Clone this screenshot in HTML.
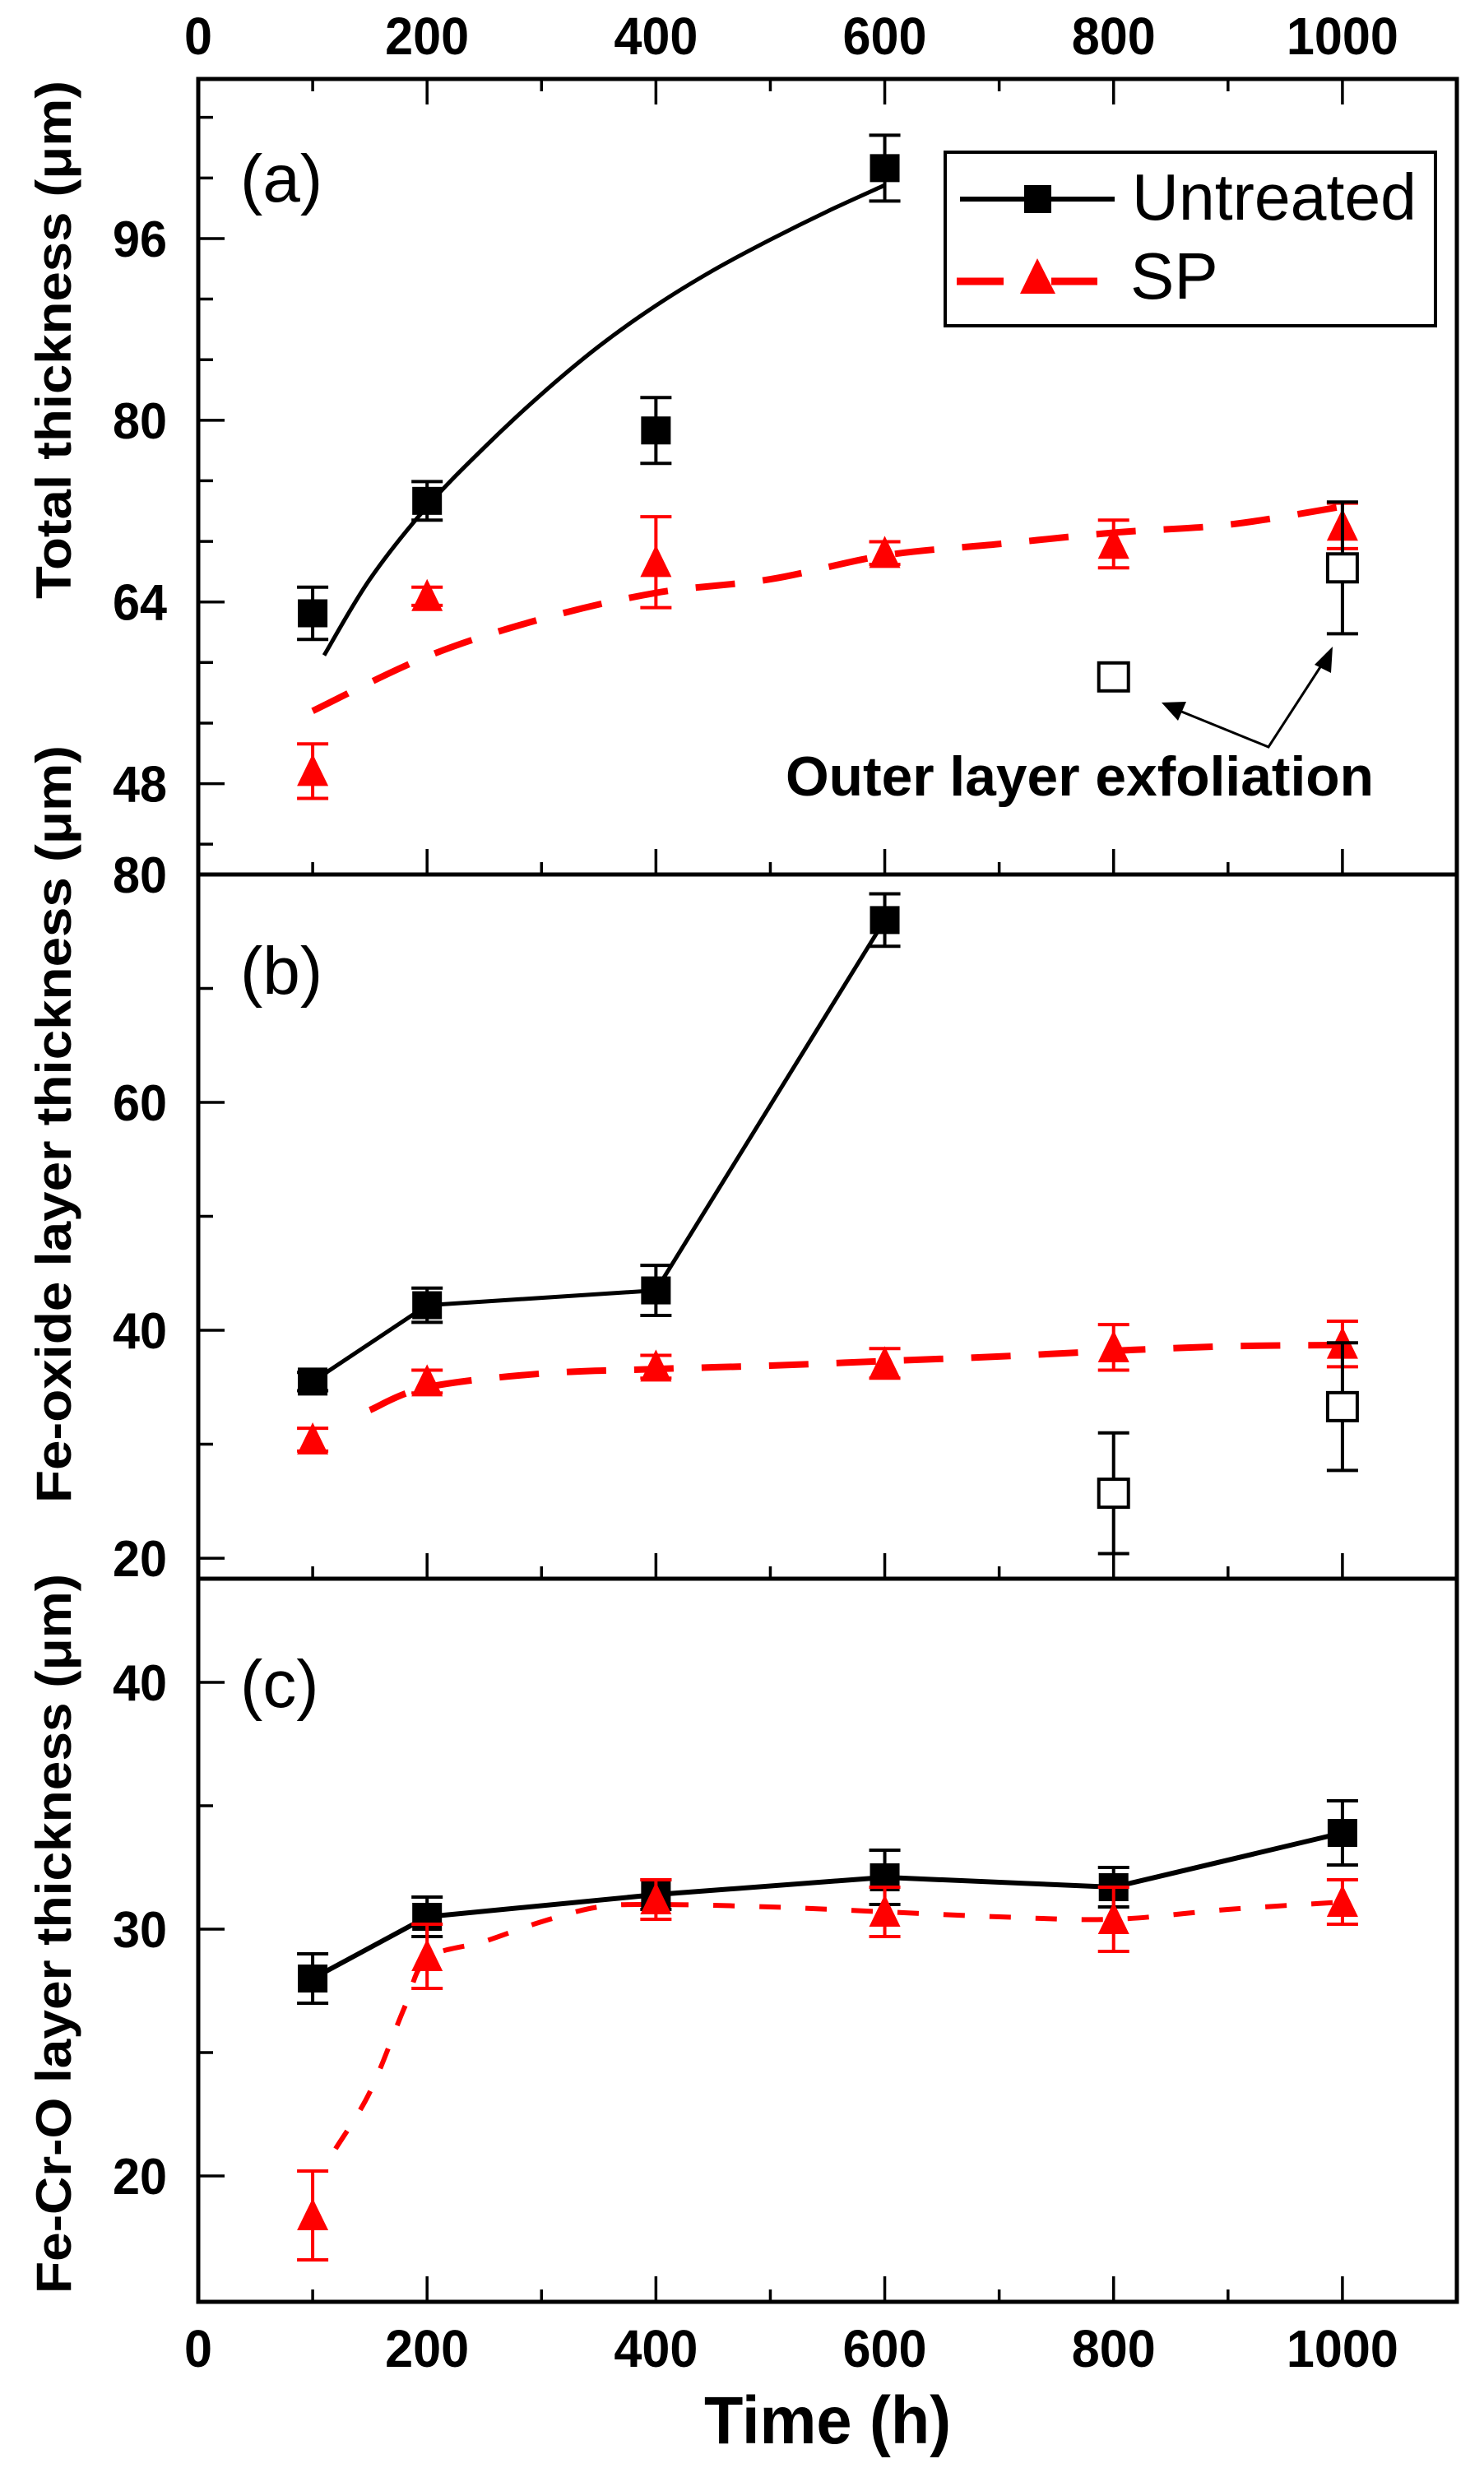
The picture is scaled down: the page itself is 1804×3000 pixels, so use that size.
<!DOCTYPE html>
<html><head><meta charset="utf-8"><style>
html,body{margin:0;padding:0;background:#fff;}
svg{display:block;}
text{font-family:"Liberation Sans",Arial,sans-serif;}
</style></head><body>
<svg id="chart" width="1804" height="3000" viewBox="0 0 1804 3000" xmlns="http://www.w3.org/2000/svg"></svg>
<script>
// ---- data ----
const times = [100, 200, 400, 600, 800, 1000];
const xTickLabels = ["0", "200", "400", "600", "800", "1000"];
// Panel (a) Total thickness
const aUntreatedX = [100, 200, 400, 600];
const aUntreated = [63.0, 72.9, 79.1, 102.2];
const aUntreatedErr = [2.3, 1.7, 2.9, 2.9];
const aUntreatedFitX = [110, 150, 200, 250, 300, 350, 400, 450, 500, 550, 600];
const aUntreatedFit = [59.3, 66.0, 72.4, 77.6, 82.3, 86.5, 90.1, 93.2, 95.9, 98.4, 100.7];
const aSP = [49.1, 64.5, 67.5, 68.3, 69.1, 70.7];
const aSPErr = [2.4, 0.8, 4.0, 1.0, 2.1, 2.0];
const aSPFitX = [100, 200, 300, 400, 500, 600, 700, 800, 900, 1000];
const aSPFit = [54.4, 59.2, 62.5, 64.8, 66.0, 68.1, 69.1, 70.1, 70.8, 72.4];
const aExfolX = [800, 1000];
const aExfol = [57.4, 67.0];
const aExfolErr = [0, 5.8];
const aYTicks = [48, 64, 80, 96];
// Panel (b) Fe-oxide
const bUntreatedX = [100, 200, 400, 600];
const bUntreated = [35.5, 42.2, 43.5, 76.0];
const bUntreatedErr = [0.8, 1.5, 2.2, 2.3];
const bSP = [30.4, 35.5, 36.8, 37.1, 38.5, 38.8];
const bSPErr = [1.0, 1.0, 1.0, 1.3, 2.0, 2.0];
const bSPFitX = [150, 200, 300, 400, 500, 600, 700, 800, 900, 1000];
const bSPFit = [33.0, 35.0, 36.2, 36.6, 36.9, 37.3, 37.7, 38.2, 38.6, 38.7];
const bExfolX = [800, 1000];
const bExfol = [25.7, 33.3];
const bExfolErr = [5.3, 5.6];
const bYTicks = [20, 40, 60, 80];
// Panel (c) Fe-Cr-O
const cUntreated = [28.0, 30.5, 31.4, 32.1, 31.7, 33.9];
const cUntreatedErr = [1.0, 0.8, 0.6, 1.1, 0.8, 1.3];
const cSP = [18.4, 28.9, 31.2, 30.7, 30.4, 31.1];
const cSPErr = [1.8, 1.3, 0.8, 1.0, 1.3, 0.9];
const cSPFitX = [120, 150, 180, 200, 250, 300, 350, 400, 500, 600, 700, 800, 900, 1000];
const cSPFit = [21.1, 23.4, 26.8, 28.8, 29.5, 30.3, 30.9, 31.0, 30.9, 30.7, 30.5, 30.4, 30.8, 31.1];
const cYTicks = [20, 30, 40];

// ---- layout ----
const NS = "http://www.w3.org/2000/svg";
const svg = document.getElementById("chart");
const L = 241, R = 1771;
const X = h => L + (h - 0) / 1100 * (R - L);
function mk(tag, attrs, parent) {
  const e = document.createElementNS(NS, tag);
  for (const k in attrs) e.setAttribute(k, attrs[k]);
  (parent || svg).appendChild(e);
  return e;
}
const panels = [
  {id:"a", top:96, bot:1063, y0:40.0, y1:110.05, ticks:aYTicks, minor:[42.67,53.33,58.67,69.33,74.67,85.33,90.67,101.33,106.67], label:"(a)", ly:215, topTicks:true},
  {id:"b", top:1063, bot:1919, y0:18.2, y1:80, ticks:bYTicks, minor:[30,50,70], label:"(b)", ly:1178, topTicks:false},
  {id:"c", top:1919, bot:2798, y0:14.9, y1:44.2, ticks:cYTicks, minor:[25,35], label:"(c)", ly:2045, topTicks:false}
];
panels.forEach(p => { p.Y = v => p.bot - (v - p.y0) / (p.y1 - p.y0) * (p.bot - p.top); });

function frame(p) {
  const g = mk("g", {});
  
  
  mk("rect", {x:L, y:p.top, width:R-L, height:p.bot-p.top, fill:"none", stroke:"#000", "stroke-width":5}, g);
  for (let h = 100; h <= 1000; h += 100) {
    const major = h % 200 === 0;
    const len = major ? 31 : 15;
    mk("line", {x1:X(h), x2:X(h), y1:p.bot, y2:p.bot-len, stroke:"#000", "stroke-width":3.5}, g);
    if (p.topTicks) mk("line", {x1:X(h), x2:X(h), y1:p.top, y2:p.top+len, stroke:"#000", "stroke-width":3.5}, g);
  }
  p.ticks.forEach(v => {
    mk("line", {x1:L, x2:L+32, y1:p.Y(v), y2:p.Y(v), stroke:"#000", "stroke-width":3.5}, g);
    const t = mk("text", {x:203, y:p.Y(v)+22, "text-anchor":"end", "font-size":62, "font-weight":"bold", textLength:String(v).length*33, lengthAdjust:"spacingAndGlyphs"}, g);
    t.textContent = v;
    
    
  });
  p.minor.forEach(v => {
    mk("line", {x1:L, x2:L+18, y1:p.Y(v), y2:p.Y(v), stroke:"#000", "stroke-width":3.5}, g);
  });
  const lab = mk("text", {x:292, y:p.ly+30, "font-size":82, "font-family":"Liberation Serif, serif"}, g);
  lab.textContent = p.label;
  
  
}
panels.forEach(frame);

// x tick labels top & bottom
xTickLabels.forEach((s, i) => {
  const h = i * 200;
  const w = s.length * 34;
  [66, 2877].forEach(y => {
    const t = mk("text", {x:X(h), y:y, "text-anchor":"middle", "font-size":64, "font-weight":"bold", textLength:w, lengthAdjust:"spacingAndGlyphs"});
    t.textContent = s;
    
    
  });
});
const xt = mk("text", {x:1006, y:2970, "text-anchor":"middle", "font-size":82, "font-weight":"bold", textLength:300, lengthAdjust:"spacingAndGlyphs"});
xt.textContent = "Time (h)";



// y titles: start (bottom) position, target length
[["Total thickness (μm)", 728, 630, "y-axis-title-a"], ["Fe-oxide layer thickness (μm)", 1827, 921, "y-axis-title-b"], ["Fe-Cr-O layer thickness (μm)", 2788, 875, "y-axis-title-c"]].forEach(d => {
  const t = mk("text", {x:0, y:0, "font-size":60, "font-weight":"bold", textLength:d[2], lengthAdjust:"spacingAndGlyphs", transform:"translate(86," + d[1] + ") rotate(-90)"});
  t.textContent = d[0];
  
  
});

// drawing helpers
function smoothPath(pts) {
  let d = "M" + pts[0][0] + "," + pts[0][1];
  for (let i = 0; i < pts.length - 1; i++) {
    const p0 = pts[i-1] || pts[i], p1 = pts[i], p2 = pts[i+1], p3 = pts[i+2] || p2;
    const c1 = [p1[0] + (p2[0]-p0[0])/6, p1[1] + (p2[1]-p0[1])/6];
    const c2 = [p2[0] - (p3[0]-p1[0])/6, p2[1] - (p3[1]-p1[1])/6];
    d += " C" + c1.join(",") + " " + c2.join(",") + " " + p2.join(",");
  }
  return d;
}
function polyline(p, xs, ys, color, width, dash, name, smooth) {
  const pts = xs.map((h, i) => [X(h), p.Y(ys[i])]);
  const e = mk("path", {d: smooth ? smoothPath(pts) : "M" + pts.map(q => q.join(",")).join(" L"), fill:"none", stroke:color, "stroke-width":width, "stroke-linejoin":"round"});
  if (dash) e.setAttribute("stroke-dasharray", dash);
  
  
}
function errbar(p, h, v, e, color, name) {
  if (!e) return;
  const g = mk("g", {stroke:color, "stroke-width":4});
  
  
  const x = X(h), y1 = p.Y(v + e), y2 = p.Y(v - e);
  mk("line", {x1:x, x2:x, y1:y1, y2:y2}, g);
  mk("line", {x1:x-19, x2:x+19, y1:y1, y2:y1}, g);
  mk("line", {x1:x-19, x2:x+19, y1:y2, y2:y2}, g);
}
function square(p, h, v, filled, name) {
  const e = mk("rect", {x:X(h)-18, y:p.Y(v)-17, width:36, height:34, fill:filled ? "#000" : "#fff", stroke:"#000", "stroke-width":filled ? 0 : 4});
  
  
}
function tri(p, h, v, name) {
  const x = X(h), y = p.Y(v);
  const e = mk("polygon", {points:(x) + "," + (y-21) + " " + (x-19) + "," + (y+18) + " " + (x+19) + "," + (y+18), fill:"#f00"});
  
  
}
const DASH = "48 34";

const pa = panels[0], pb = panels[1], pc = panels[2];
// Panel a
polyline(pa, aUntreatedFitX, aUntreatedFit, "#000", 5, null, "untreated-fit-a", true);
polyline(pa, aSPFitX, aSPFit, "#f00", 8, DASH, "sp-fit-a", true);
aUntreatedX.forEach((h, i) => { errbar(pa, h, aUntreated[i], aUntreatedErr[i], "#000", "untreated-error-a"); square(pa, h, aUntreated[i], true, "untreated-point-a"); });
times.forEach((h, i) => { errbar(pa, h, aSP[i], aSPErr[i], "#f00", "sp-error-a"); tri(pa, h, aSP[i], "sp-point-a"); });
aExfolX.forEach((h, i) => { errbar(pa, h, aExfol[i], aExfolErr[i], "#000", "exfoliation-error-a"); square(pa, h, aExfol[i], false, "exfoliation-point-a"); });

// Panel b
polyline(pb, bUntreatedX, bUntreated, "#000", 5, null, "untreated-line-b", false);
polyline(pb, bSPFitX, bSPFit, "#f00", 8, DASH, "sp-fit-b", true);
bUntreatedX.forEach((h, i) => { errbar(pb, h, bUntreated[i], bUntreatedErr[i], "#000", "untreated-error-b"); square(pb, h, bUntreated[i], true, "untreated-point-b"); });
times.forEach((h, i) => { errbar(pb, h, bSP[i], bSPErr[i], "#f00", "sp-error-b"); tri(pb, h, bSP[i], "sp-point-b"); });
bExfolX.forEach((h, i) => { errbar(pb, h, bExfol[i], bExfolErr[i], "#000", "exfoliation-error-b"); square(pb, h, bExfol[i], false, "exfoliation-point-b"); });

// Panel c
polyline(pc, times, cUntreated, "#000", 6, null, "untreated-line-c", false);
polyline(pc, cSPFitX, cSPFit, "#f00", 6, "26 30", "sp-fit-c", true);
times.forEach((h, i) => { errbar(pc, h, cUntreated[i], cUntreatedErr[i], "#000", "untreated-error-c"); square(pc, h, cUntreated[i], true, "untreated-point-c"); });
times.forEach((h, i) => { errbar(pc, h, cSP[i], cSPErr[i], "#f00", "sp-error-c"); tri(pc, h, cSP[i], "sp-point-c"); });

// annotation
const ann = mk("g", {});


mk("polyline", {points:"1424,860 1542,908 1612,800", fill:"none", stroke:"#000", "stroke-width":3}, ann);
mk("polygon", {points:"1412,854 1442,853 1432,876", fill:"#000"}, ann);
mk("polygon", {points:"1620,786 1618,818 1598,808", fill:"#000"}, ann);
const at = mk("text", {x:955, y:967, "font-size":68, "font-weight":"bold", textLength:715, lengthAdjust:"spacingAndGlyphs"}, ann);
at.textContent = "Outer layer exfoliation";

// legend
const lg = mk("g", {});


mk("rect", {x:1149, y:185, width:596, height:211, fill:"#fff", stroke:"#000", "stroke-width":4}, lg);
mk("line", {x1:1167, x2:1355, y1:242, y2:242, stroke:"#000", "stroke-width":6}, lg);
mk("rect", {x:1245, y:225, width:33, height:34, fill:"#000"}, lg);
mk("line", {x1:1163, x2:1220, y1:342, y2:342, stroke:"#f00", "stroke-width":9}, lg);
mk("line", {x1:1278, x2:1334, y1:342, y2:342, stroke:"#f00", "stroke-width":9}, lg);
mk("polygon", {points:"1261,314 1240,357 1283,357", fill:"#f00"}, lg);
const l1 = mk("text", {x:1376, y:267, "font-size":80, textLength:346, lengthAdjust:"spacingAndGlyphs"}, lg);
l1.textContent = "Untreated";


const l2 = mk("text", {x:1374, y:363, "font-size":80}, lg);
l2.textContent = "SP";


</script>
</body></html>
